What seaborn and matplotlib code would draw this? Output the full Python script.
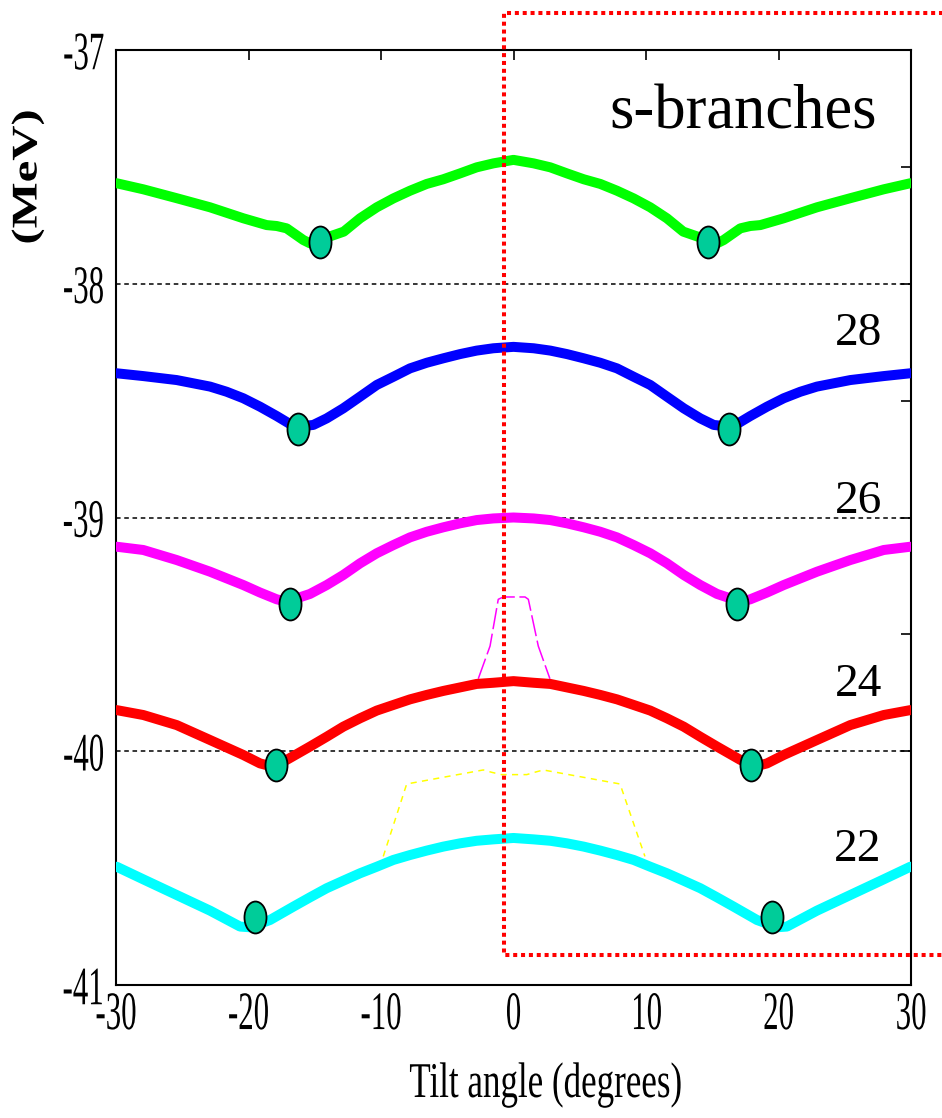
import numpy as np
import pandas as pd
import matplotlib
matplotlib.use("Agg")
import matplotlib.pyplot as plt
import seaborn as sns
from matplotlib import patheffects
from matplotlib.transforms import Affine2D
from matplotlib.path import Path
from matplotlib.lines import Line2D

# ---------------- data ----------------
branch_names = ["upper", "28", "26", "24", "22"]
branch_colors = ["#00ff00", "#0000ff", "#ff00ff", "#ff0000", "#00ffff"]
branch_labels = ["28", "26", "24", "22"]

upper_angle = [-29.95, -27.94, -25.42, -22.9, -20.39, -18.63, -17.87, -17.12, -15.86, -15.36,
               -12.81, -11.58, -10.32, -9.07, -7.81, -6.55, -5.30, -4.04, -2.78, -1.52, 0.0,
               1.52, 2.78, 4.04, 5.30, 6.55, 7.81, 9.07, 10.32, 11.58, 12.81,
               15.36, 15.86, 17.12, 17.87, 18.63, 20.39, 22.9, 25.42, 27.94, 29.95]
upper_energy = [-37.570, -37.596, -37.634, -37.673, -37.720, -37.749, -37.753, -37.763, -37.813, -37.827,
                -37.777, -37.720, -37.673, -37.635, -37.602, -37.573, -37.553, -37.528, -37.502, -37.485, -37.470,
                -37.485, -37.502, -37.528, -37.553, -37.573, -37.602, -37.635, -37.673, -37.720, -37.777,
                -37.827, -37.813, -37.763, -37.753, -37.749, -37.720, -37.673, -37.634, -37.596, -37.570]

b28_angle = [-29.95, -27.94, -25.42, -22.9, -21.65, -20.39, -19.13, -17.87, -16.87, -16.24,
             -15.11, -14.1, -12.85, -11.58, -10.32, -9.07, -7.81, -6.55, -5.30, -4.04, -2.78, -1.52, 0.0,
             1.52, 2.78, 4.04, 5.30, 6.55, 7.81, 9.07, 10.32, 11.58, 12.85, 14.1, 15.11,
             16.24, 16.87, 17.87, 19.13, 20.39, 21.65, 22.9, 25.42, 27.94, 29.95]
b28_energy = [-38.383, -38.395, -38.412, -38.440, -38.462, -38.490, -38.526, -38.566, -38.600, -38.611,
              -38.604, -38.576, -38.533, -38.483, -38.433, -38.398, -38.362, -38.338, -38.319, -38.301, -38.286, -38.276, -38.270,
              -38.276, -38.286, -38.301, -38.319, -38.338, -38.362, -38.398, -38.433, -38.483, -38.533, -38.576, -38.604,
              -38.611, -38.600, -38.566, -38.526, -38.490, -38.462, -38.440, -38.412, -38.395, -38.383]

b26_angle = [-29.95, -27.94, -25.42, -22.9, -20.39, -19.13, -17.87, -17.12,
             -15.36, -14.1, -12.85, -11.58, -10.32, -9.07, -7.81, -6.55, -5.30, -4.04, -2.78, -1.52, 0.0,
             1.52, 2.78, 4.04, 5.30, 6.55, 7.81, 9.07, 10.32, 11.58, 12.85, 14.1, 15.36,
             17.12, 17.87, 19.13, 20.39, 22.9, 25.42, 27.94, 29.95]
b26_energy = [-39.125, -39.139, -39.182, -39.232, -39.289, -39.321, -39.350, -39.360,
              -39.327, -39.289, -39.246, -39.196, -39.153, -39.118, -39.085, -39.061, -39.042, -39.025, -39.011, -39.004, -39.000,
              -39.004, -39.011, -39.025, -39.042, -39.061, -39.085, -39.118, -39.153, -39.196, -39.246, -39.289, -39.327,
              -39.360, -39.350, -39.321, -39.289, -39.232, -39.182, -39.139, -39.125]

b24_angle = [-29.95, -27.94, -25.42, -22.9, -20.39, -19.13, -18.38,
             -17.12, -15.36, -14.1, -12.85, -11.58, -10.32, -9.07, -7.81, -6.55, -5.30, -4.04, -2.78, -1.52, 0.0,
             1.52, 2.78, 4.04, 5.30, 6.55, 7.81, 9.07, 10.32, 11.58, 12.85, 14.1, 15.36, 17.12,
             18.38, 19.13, 20.39, 22.9, 25.42, 27.94, 29.95]
b24_energy = [-39.824, -39.845, -39.888, -39.952, -40.016, -40.052, -40.063,
              -40.037, -39.980, -39.938, -39.895, -39.859, -39.826, -39.802, -39.778, -39.759, -39.742, -39.727, -39.712, -39.707, -39.700,
              -39.707, -39.712, -39.727, -39.742, -39.759, -39.778, -39.802, -39.826, -39.859, -39.895, -39.938, -39.980, -40.037,
              -40.063, -40.052, -40.016, -39.952, -39.888, -39.845, -39.824]

b22_angle = [-29.95, -27.94, -25.42, -22.9, -20.64, -19.89,
             -18.38, -16.62, -15.36, -14.1, -12.85, -11.58, -10.32, -9.07, -7.81, -6.55, -5.30, -4.04, -2.78, -1.52, 0.0,
             1.52, 2.78, 4.04, 5.30, 6.55, 7.81, 9.07, 10.32, 11.58, 12.85, 14.1, 15.36, 16.62, 18.38,
             19.89, 20.64, 22.9, 25.42, 27.94, 29.95]
b22_energy = [-40.494, -40.548, -40.615, -40.682, -40.750, -40.753,
              -40.722, -40.665, -40.625, -40.586, -40.554, -40.522, -40.494, -40.465, -40.444, -40.425, -40.408, -40.394, -40.383, -40.377, -40.371,
              -40.377, -40.383, -40.394, -40.408, -40.425, -40.444, -40.465, -40.494, -40.522, -40.554, -40.586, -40.625, -40.665, -40.722,
              -40.753, -40.750, -40.682, -40.615, -40.548, -40.494]

# crossing points on each branch
marker_branch = ["upper", "upper", "28", "28", "26", "26", "24", "24", "22", "22"]
marker_angle = [-14.6, 14.7, -16.3, 16.3, -16.9, 16.9, -17.9, 17.9, -19.5, 19.5]
marker_energy = [-37.82, -37.82, -38.62, -38.62, -39.37, -39.37, -40.06, -40.06, -40.71, -40.71]

# thin side branches
side26_angle = [-2.66, -1.77, -1.15, -0.77, 0.87, 1.12, 1.87, 2.75]
side26_energy = [-39.69, -39.55, -39.35, -39.34, -39.34, -39.35, -39.55, -39.69]

side22_angle = [-9.83, -8.06, -2.28, -1.65, -0.9, 1.0, 1.6, 2.25, 8.04, 9.92]
side22_energy = [-40.45, -40.14, -40.08, -40.09, -40.10, -40.10, -40.09, -40.08, -40.14, -40.45]

x_ticks = [-30, -20, -10, 0, 10, 20, 30]
x_ticklabels = ["-30", "-20", "-10", "0", "10", "20", "30"]
y_ticks = [-41, -40, -39, -38, -37]
y_ticklabels = ["-41", "-40", "-39", "-38", "-37"]
y_minor = [-40.5, -39.5, -38.5, -37.5]
ref_levels = [-38, -39, -40]


class Squeeze(patheffects.AbstractPathEffect):
    """Scale glyph outlines along the text direction about an anchor."""

    def __init__(self, sx, anchor="center"):
        super().__init__()
        self.sx = sx
        self.anchor = anchor

    def draw_path(self, renderer, gc, tpath, affine, rgbFace=None):
        ext = tpath.get_extents()
        if self.anchor == "center":
            a = 0.5 * (ext.x0 + ext.x1)
        elif self.anchor == "right":
            a = ext.x1
        else:
            a = ext.x0
        t = Affine2D().translate(-a, 0).scale(self.sx, 1.0).translate(a, 0) + affine
        renderer.draw_path(gc, tpath, t, rgbFace)


sns.set_style("white")
plt.rcParams["font.family"] = ["Liberation Serif", "DejaVu Serif"]
plt.rcParams["axes.unicode_minus"] = False
for key in ["text.color", "axes.labelcolor", "xtick.color", "ytick.color", "axes.edgecolor"]:
    plt.rcParams[key] = "black"

frames = []
for name, a, e in [("upper", upper_angle, upper_energy), ("28", b28_angle, b28_energy),
                   ("26", b26_angle, b26_energy), ("24", b24_angle, b24_energy),
                   ("22", b22_angle, b22_energy)]:
    frames.append(pd.DataFrame({"angle": a, "energy": e, "branch": name}))
lines_df = pd.concat(frames, ignore_index=True)
marks_df = pd.DataFrame({"angle": marker_angle, "energy": marker_energy, "branch": marker_branch})
palette = dict(zip(branch_names, branch_colors))

W, H = 942, 1118
fig = plt.figure(figsize=(W / 100, H / 100), dpi=100)
ax = fig.add_axes([116 / W, 1 - 985 / H, 795 / W, 935 / H])

for lev in ref_levels:
    ax.axhline(lev, color="black", lw=1.1, dashes=(3, 2.4), zorder=1)

sns.lineplot(x=side26_angle, y=side26_energy, color="#ff00ff", lw=1.1,
             ax=ax, estimator=None, sort=False, zorder=2).lines[-1].set_dashes((14, 3))
sns.lineplot(x=side22_angle, y=side22_energy, color="#ffff00", lw=1.1,
             ax=ax, estimator=None, sort=False, zorder=2).lines[-1].set_dashes((4, 3.5))

sns.lineplot(data=lines_df, x="angle", y="energy", hue="branch", palette=palette,
             hue_order=branch_names, lw=7.2, legend=False, estimator=None, sort=False,
             ax=ax, zorder=3)

ellipse = Path(Path.unit_circle().vertices * np.array([0.69, 1.0]), Path.unit_circle().codes)
sns.scatterplot(data=marks_df, x="angle", y="energy", marker=ellipse, s=23 ** 2,
                color="#00cc99", edgecolor="black", linewidth=1.3, legend=False,
                ax=ax, zorder=5)

ax.set_xlim(-30, 30)
ax.set_ylim(-41, -37)
ax.set_xticks(x_ticks)
ax.set_xticklabels(x_ticklabels)
ax.set_yticks(y_ticks)
ax.set_yticklabels(y_ticklabels)
ax.set_yticks(y_minor, minor=True)
ax.set_xlabel("")
ax.set_ylabel("")
for s in ax.spines.values():
    s.set_linewidth(1.5)
    s.set_color("black")
ax.tick_params(axis="both", which="both", direction="in", top=True, right=True,
               length=7, width=1.2, color="black", labelcolor="black", labelsize=39)
ax.tick_params(axis="x", pad=4)
ax.tick_params(axis="y", pad=8)
for lbl in ax.get_xticklabels():
    lbl.set_path_effects([Squeeze(0.57, "center")])
for lbl in ax.get_yticklabels():
    lbl.set_path_effects([Squeeze(0.57, "right")])

# branch labels
label_energy = [-38.262, -38.98, -39.764, -40.47]
for txt, ye in zip(branch_labels, label_energy):
    ax.text(27.8, ye, txt, fontsize=34, ha="right", va="baseline", color="black", zorder=6)
ax.text(27.4, -37.334, "s-branches", fontsize=45, ha="right", va="baseline", color="black", zorder=6)

# axis titles
fig.text(546 / W, 1 - 1097 / H, "Tilt angle (degrees)", fontsize=36, ha="center",
         va="baseline", color="black", path_effects=[Squeeze(0.70, "center")])
fig.text(28 / W, 1 - 177 / H, "(MeV)", fontsize=26, fontweight="bold", rotation=90,
         ha="center", va="center", color="black", path_effects=[Squeeze(1.35, "center")])

# highlight frame
box = Line2D([1.01, 504 / W, 504 / W, 1.01], [1 - 13 / H, 1 - 13 / H, 1 - 955 / H, 1 - 955 / H],
             transform=fig.transFigure, color="#ff0000", lw=2.9, dashes=(1, 0.95),
             dash_capstyle="butt", zorder=10)
fig.add_artist(box)

fig.savefig("out.png", dpi=100)
